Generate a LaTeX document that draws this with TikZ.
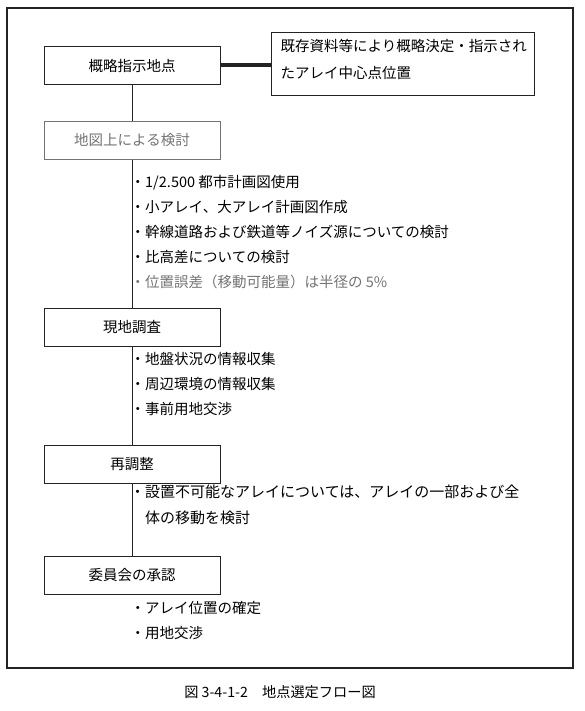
\documentclass[tikz,border=0pt]{standalone}
\usepackage{fontspec}
\setmainfont{Noto Sans CJK JP}
\definecolor{frameblack}{RGB}{35,35,35}
\definecolor{fadedgray}{RGB}{115,115,115}
\usetikzlibrary{calc}

\begin{document}
\begin{tikzpicture}[x=1pt, y=-1pt,
    stepbox/.style={draw=frameblack, line width=1pt, minimum width=176pt,
      minimum height=38pt, inner sep=0pt, font=\fontsize{14.5}{17}\selectfont},
    notes/.style={anchor=north west, align=left, inner sep=0pt,
      font=\fontsize{14.5}{25}\selectfont},
    trunk/.style={draw=frameblack, line width=0.9pt}]
  \useasboundingbox (0,0) rectangle (585,711);
  \draw[frameblack, line width=1.2pt] (7,8) rectangle (573,668);

  % flow boxes
  \node[stepbox] (site) at (132,65.5) {概略指示地点};
  \node[stepbox, draw=fadedgray, text=fadedgray] (mapcheck) at (132,140.5) {地図上による検討};
  \node[stepbox] (survey) at (132,327) {現地調査};
  \node[stepbox] (adjust) at (132,464) {再調整};
  \node[stepbox] (approval) at (132,575) {委員会の承認};

  % side note
  \node[stepbox, minimum width=263pt, minimum height=63pt] (infobox) at (402.5,64.5) {};
  \node[notes, font=\fontsize{14.5}{27}\selectfont] (infotext)
    at ($(infobox.north west)+(10,6.7)$) {既存資料等により概略決定・指示され\\たアレイ中心点位置};
  \draw[frameblack, line width=4pt] (site.east) -- (site.east -| infobox.west);

  \foreach \a/\b in {site/mapcheck, mapcheck/survey, survey/adjust, adjust/approval}
    \draw[trunk] (\a.south) -- (\b.north);

  % items under each box
  \node[notes] (mapnotes) at (130.5,174.7) {・1/2.500 都市計画図使用\\
    ・小アレイ、大アレイ計画図作成\\
    ・幹線道路および鉄道等ノイズ源についての検討\\
    ・比高差についての検討\\
    \textcolor{fadedgray}{・位置誤差（移動可能量）は半径の 5\%}};
  \node[notes] (surveynotes) at (130.5,351.7) {・地盤状況の情報収集\\
    ・周辺環境の情報収集\\
    ・事前用地交渉};
  \node[notes, font=\fontsize{15}{26}\selectfont] (adjustnotes) at (130,484.4)
    {・設置不可能なアレイについては、アレイの一部および全\\
    \hphantom{・}体の移動を検討};
  \node[notes] (approvalnotes) at (130.5,600.7) {・アレイ位置の確定\\
    ・用地交渉};

  \node[font=\fontsize{14.2}{17}\selectfont] (caption) at (280,692)
    {図 3-4-1-2　地点選定フロー図};
\end{tikzpicture}
\end{document}
